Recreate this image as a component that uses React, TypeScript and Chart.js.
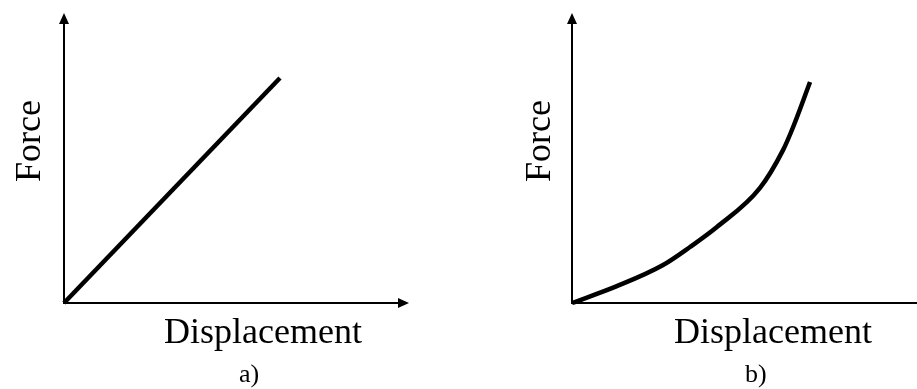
import React, { useEffect, useRef } from "react";
import { Chart, registerables } from "chart.js";

Chart.register(...registerables);

// Normalised axis ranges shared by both panels
const X_MAX = 10;
const Y_MAX = 10;

// Panel a) – linear (elastic) response
const displacementA = [0, 6.26];
const forceA = [0, 7.76];

// Panel b) – stiffening (non-linear) response
const displacementB = [0, 1.3, 2.64, 3.42, 4.2, 5.45, 6.12, 6.41, 6.9];
const forceB = [0, 0.58, 1.31, 1.93, 2.62, 3.97, 5.28, 6.07, 7.62];

const yTitle = "Force";
const xTitle = "Displacement";
const captions = ["a)", "b)"];

const FONT_FAMILY = '"Liberation Serif", "Times New Roman", serif';

type PanelLayout = {
  left: number;
  width: number;
  padding: { left: number; right: number; top: number; bottom: number };
  arrowX: boolean;
  yTitleDx: number;
  xTitleDx: number;
  captionDx: number;
  smooth: boolean;
};

function makeAxesPlugin(layout: PanelLayout, caption: string) {
  return {
    id: "sketchAxes",
    beforeDatasetsDraw(chart: any) {
      const ctx = chart.ctx as CanvasRenderingContext2D;
      const xs = chart.scales.x;
      const ys = chart.scales.y;
      const ox = xs.getPixelForValue(0);
      const oy = ys.getPixelForValue(0);
      const topY = ys.getPixelForValue(Y_MAX);
      const rightX = layout.arrowX ? xs.getPixelForValue(X_MAX) : chart.width + 2;
      const head = 11;
      const half = 5;
      ctx.save();
      ctx.strokeStyle = "#000";
      ctx.fillStyle = "#000";
      ctx.lineWidth = 2;
      // vertical axis
      ctx.beginPath();
      ctx.moveTo(ox, oy + 1);
      ctx.lineTo(ox, topY + head - 1);
      ctx.stroke();
      ctx.beginPath();
      ctx.moveTo(ox, topY);
      ctx.lineTo(ox - half, topY + head);
      ctx.lineTo(ox + half, topY + head);
      ctx.closePath();
      ctx.fill();
      // horizontal axis
      ctx.beginPath();
      ctx.moveTo(ox - 1, oy);
      ctx.lineTo(layout.arrowX ? rightX - head + 1 : rightX, oy);
      ctx.stroke();
      if (layout.arrowX) {
        ctx.beginPath();
        ctx.moveTo(rightX, oy);
        ctx.lineTo(rightX - head, oy - half);
        ctx.lineTo(rightX - head, oy + half);
        ctx.closePath();
        ctx.fill();
      }
      ctx.restore();
    },
    afterDraw(chart: any) {
      const ctx = chart.ctx as CanvasRenderingContext2D;
      const ox = chart.scales.x.getPixelForValue(0);
      const oy = chart.scales.y.getPixelForValue(0);
      ctx.save();
      ctx.fillStyle = "#000";
      ctx.textBaseline = "alphabetic";
      ctx.textAlign = "left";
      // rotated vertical title
      ctx.font = `36px ${FONT_FAMILY}`;
      ctx.save();
      ctx.translate(ox + layout.yTitleDx, oy - 121);
      ctx.rotate(-Math.PI / 2);
      ctx.fillText(yTitle, 0, 0);
      ctx.restore();
      // horizontal title
      ctx.fillText(xTitle, ox + layout.xTitleDx, oy + 40);
      // panel caption
      ctx.font = `26px ${FONT_FAMILY}`;
      ctx.fillText(caption, ox + layout.captionDx, oy + 79);
      ctx.restore();
    },
  };
}

function Panel({
  xs,
  ys,
  layout,
  caption,
}: {
  xs: number[];
  ys: number[];
  layout: PanelLayout;
  caption: string;
}) {
  const ref = useRef<HTMLCanvasElement | null>(null);

  useEffect(() => {
    if (!ref.current) return;
    const points = xs.map((x, i) => ({ x, y: ys[i] }));
    const chart = new Chart(ref.current, {
      type: "line",
      data: {
        datasets: [
          {
            data: points,
            borderColor: "#000",
            borderWidth: 4.5,
            pointRadius: 0,
            fill: false,
            clip: false as any,
            borderCapStyle: "butt",
            borderJoinStyle: "round",
            cubicInterpolationMode: layout.smooth ? "monotone" : "default",
            tension: 0,
          },
        ],
      },
      options: {
        responsive: false,
        animation: false,
        devicePixelRatio: 1,
        layout: { padding: layout.padding },
        plugins: {
          legend: { display: false },
          tooltip: { enabled: false },
          title: { display: false },
        },
        scales: {
          x: { type: "linear", min: 0, max: X_MAX, display: false },
          y: { type: "linear", min: 0, max: Y_MAX, display: false },
        },
      },
      plugins: [makeAxesPlugin(layout, caption)],
    });
    return () => chart.destroy();
  }, [xs, ys, layout, caption]);

  return (
    <canvas
      ref={ref}
      width={layout.width}
      height={389}
      style={{ position: "absolute", left: layout.left, top: 0, width: layout.width, height: 389 }}
    />
  );
}

const layoutA: PanelLayout = {
  left: 0,
  width: 458,
  padding: { left: 64, right: 49, top: 13, bottom: 86 },
  arrowX: true,
  yTitleDx: -24,
  xTitleDx: 100,
  captionDx: 175,
  smooth: false,
};

const layoutB: PanelLayout = {
  left: 458,
  width: 459,
  padding: { left: 114, right: 0, top: 13, bottom: 86 },
  arrowX: false,
  yTitleDx: -22,
  xTitleDx: 102,
  captionDx: 173,
  smooth: true,
};

export default function App() {
  return (
    <div style={{ position: "absolute", left: 0, top: 0, width: 917, height: 389, background: "#fff", overflow: "hidden" }}>
      <Panel xs={displacementA} ys={forceA} layout={layoutA} caption={captions[0]} />
      <Panel xs={displacementB} ys={forceB} layout={layoutB} caption={captions[1]} />
    </div>
  );
}
